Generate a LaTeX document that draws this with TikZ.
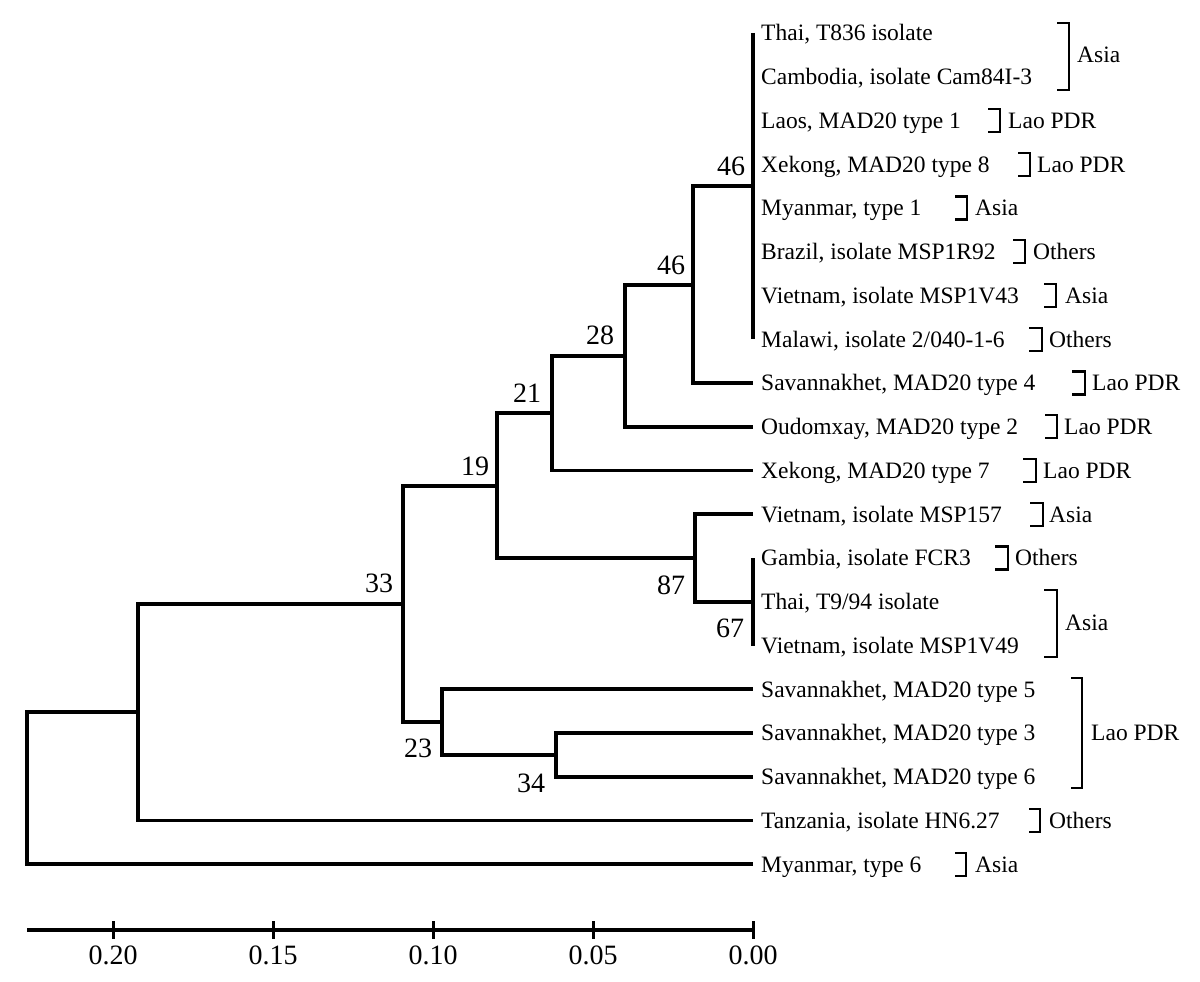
\documentclass[tikz,border=0pt]{standalone}
\usepackage{fontspec}
\setmainfont{Liberation Serif}
\usetikzlibrary{calc}
\begin{document}
\begin{tikzpicture}[x=1pt,y=-1pt,
  branch/.style={line width=3.8pt},
  brk/.style={line width=2.2pt},
  leaflab/.style={anchor=base west,inner sep=0pt,font=\fontsize{23.5}{23.5}\selectfont},
  grouplab/.style={anchor=base west,inner sep=0pt,font=\fontsize{23.5}{23.5}\selectfont},
  boot/.style={inner sep=0pt,font=\fontsize{28}{28}\selectfont},
  axlab/.style={inner sep=0pt,font=\fontsize{28}{28}\selectfont}]
\useasboundingbox (0,0) rectangle (1200,982);
% leaf tips
\foreach \i/\yy in {1/33,2/76.75,3/120.5,4/164.25,5/208,6/251.75,7/295.5,8/339.25,9/383,10/426.75,11/470.5,12/514.25,13/558,14/601.75,15/645.5,16/689.25,17/733,18/776.75,19/820.5,20/864.25}
  \coordinate (l\i) at (753,\yy);
% leaf labels
\foreach \i/\t in {1/{Thai, T836 isolate},2/{Cambodia, isolate Cam84I-3},3/{Laos, MAD20 type 1},4/{Xekong, MAD20 type 8},5/{Myanmar, type 1},6/{Brazil, isolate MSP1R92},7/{Vietnam, isolate MSP1V43},8/{Malawi, isolate 2/040-1-6},9/{Savannakhet, MAD20 type 4},10/{Oudomxay, MAD20 type 2},11/{Xekong, MAD20 type 7},12/{Vietnam, isolate MSP157},13/{Gambia, isolate FCR3},14/{Thai, T9/94 isolate},15/{Vietnam, isolate MSP1V49},16/{Savannakhet, MAD20 type 5},17/{Savannakhet, MAD20 type 3},18/{Savannakhet, MAD20 type 6},19/{Tanzania, isolate HN6.27},20/{Myanmar, type 6}}
  \node[leaflab] (t\i) at ($(l\i)+(8,7.8)$) {\t};
% internal nodes
\coordinate (A) at (753,186.1);
\coordinate (B) at (693,284.6);
\coordinate (C) at (625,355.7);
\coordinate (D) at (552,413.1);
\coordinate (E) at (753,601.75);
\coordinate (F) at (695,558);
\coordinate (G) at (497,485.6);
\coordinate (H) at (403,603.8);
\coordinate (J) at (556,754.9);
\coordinate (I) at (442,722.1);
\coordinate (K) at (138,712.2);
\coordinate (R) at (27,788.2);
% branches
\draw[branch] (l1) -- (l8);
\draw[branch] (B) |- (A);
\draw[branch] (B) |- (l9);
\draw[branch] (C) |- (B);
\draw[branch] (C) |- (l10);
\draw[branch] (D) |- (C);
\draw[branch] (D) |- (l11);
\draw[branch] (l13) -- (l15);
\draw[branch] (F) |- (l12);
\draw[branch] (F) |- (E);
\draw[branch] (G) |- (D);
\draw[branch] (G) |- (F);
\draw[branch] (H) |- (G);
\draw[branch] (H) |- (I);
\draw[branch] (I) |- (l16);
\draw[branch] (I) |- (J);
\draw[branch] (J) |- (l17);
\draw[branch] (J) |- (l18);
\draw[branch] (K) |- (H);
\draw[branch] (K) |- (l19);
\draw[branch] (R) |- (K);
\draw[branch] (R) |- (l20);
% bootstrap values
\node[boot] (b1) at (731,166) {46};
\node[boot] (b2) at (671,265) {46};
\node[boot] (b3) at (600,335) {28};
\node[boot] (b4) at (527,393) {21};
\node[boot] (b5) at (475,466) {19};
\node[boot] (b6) at (379,583) {33};
\node[boot] (b7) at (671,585) {87};
\node[boot] (b8) at (730,628) {67};
\node[boot] (b9) at (418,748) {23};
\node[boot] (b10) at (531,783) {34};
% group brackets
\foreach \xa/\xb/\ya/\yb/\xl/\yl/\g in {
  1057/1069/23/90/1077/55/Asia,
  988/1000/109/132/1008/120.5/Lao PDR,
  1018/1030/153/176/1037/164.25/Lao PDR,
  955/967/196.5/219.5/975/208/Asia,
  1013/1025/240/263/1033/251.75/Others,
  1044/1056/284/307/1065/295.5/Asia,
  1029/1042/328/351/1049/339.25/Others,
  1072/1085/371.5/394.5/1092/383/Lao PDR,
  1045/1057/415/438/1064/426.75/Lao PDR,
  1023/1036/459/482/1043/470.5/Lao PDR,
  1030/1043/503/526/1049/514.25/Asia,
  995/1008/546.5/569.5/1015/558/Others,
  1044/1057/590/657/1065/623/Asia,
  1071/1082/678/788/1091/733/Lao PDR,
  1029/1040/809/832/1049/820.5/Others,
  955/966/853/876/975/864.25/Asia}
{
  \draw[brk] (\xa,\ya) -- (\xb,\ya) -- (\xb,\yb) -- (\xa,\yb);
  \node[grouplab] at (\xl,\yl+7.8) {\g};
}
% scale axis
\coordinate (ax0) at (27,930);
\coordinate (ax1) at (753,930);
\draw[line width=3.6pt] (ax0) -- (ax1);
\foreach \x/\v in {113/0.20,273/0.15,433/0.10,593/0.05,753/0.00}{
  \draw[line width=3pt] (\x,921) -- (\x,939);
  \node[axlab] at (\x,955) {\v};
}
\end{tikzpicture}
\end{document}
